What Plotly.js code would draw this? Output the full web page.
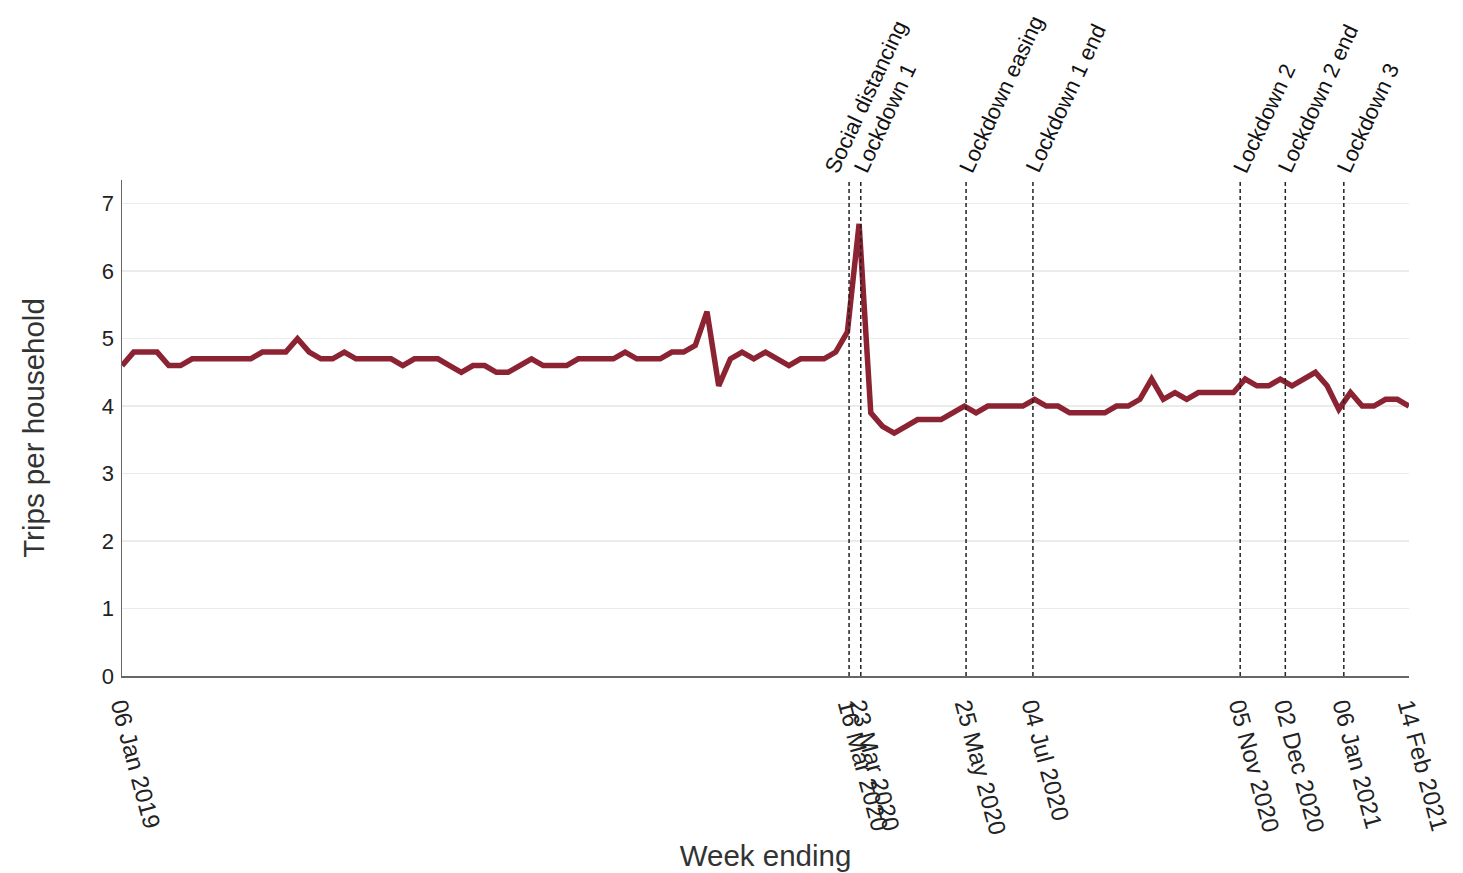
<!DOCTYPE html>
<html>
<head>
<meta charset="utf-8">
<script src="https://cdn.plot.ly/plotly-3.0.1.min.js"></script>
<style>html,body{margin:0;padding:0;background:#fff;}#chart{width:1463px;height:873px;}</style>
</head>
<body>
<div id="chart"></div>
<script>
// Weekly trips per household, week ending dates starting 06 Jan 2019 (Sundays) to 14 Feb 2021
const startWeek = '2019-01-06';
const tripsPerHousehold = [
  4.6, 4.8, 4.8, 4.8, 4.6, 4.6, 4.7, 4.7, 4.7, 4.7,
  4.7, 4.7, 4.8, 4.8, 4.8, 5.0, 4.8, 4.7, 4.7, 4.8,
  4.7, 4.7, 4.7, 4.7, 4.6, 4.7, 4.7, 4.7, 4.6, 4.5,
  4.6, 4.6, 4.5, 4.5, 4.6, 4.7, 4.6, 4.6, 4.6, 4.7,
  4.7, 4.7, 4.7, 4.8, 4.7, 4.7, 4.7, 4.8, 4.8, 4.9,
  5.4, 4.3, 4.7, 4.8, 4.7, 4.8, 4.7, 4.6, 4.7, 4.7,
  4.7, 4.8, 5.1, 6.7, 3.9, 3.7, 3.6, 3.7, 3.8, 3.8,
  3.8, 3.9, 4.0, 3.9, 4.0, 4.0, 4.0, 4.0, 4.1, 4.0,
  4.0, 3.9, 3.9, 3.9, 3.9, 4.0, 4.0, 4.1, 4.4, 4.1,
  4.2, 4.1, 4.2, 4.2, 4.2, 4.2, 4.4, 4.3, 4.3, 4.4,
  4.3, 4.4, 4.5, 4.3, 3.95, 4.2, 4.0, 4.0, 4.1, 4.1,
  4.0
];
const eventDates = ['2020-03-16', '2020-03-23', '2020-05-25', '2020-07-04', '2020-11-05', '2020-12-02', '2021-01-06'];
const eventLabels = ['Social distancing', 'Lockdown 1', 'Lockdown easing', 'Lockdown 1 end', 'Lockdown 2', 'Lockdown 2 end', 'Lockdown 3'];
const tickDates = ['2019-01-06', '2020-03-16', '2020-03-23', '2020-05-25', '2020-07-04', '2020-11-05', '2020-12-02', '2021-01-06', '2021-02-14'];
const tickLabels = ['06 Jan 2019', '16 Mar 2020', '23 Mar 2020', '25 May 2020', '04 Jul 2020', '05 Nov 2020', '02 Dec 2020', '06 Jan 2021', '14 Feb 2021'];

// week-ending dates for each value
const weekDates = tripsPerHousehold.map((_, i) => {
  const d = new Date(startWeek + 'T00:00:00Z');
  d.setUTCDate(d.getUTCDate() + 7 * i);
  return d.toISOString().slice(0, 10);
});

const FONT = '"Liberation Sans", Arial, sans-serif';

const trace = {
  x: weekDates,
  y: tripsPerHousehold,
  type: 'scatter',
  mode: 'lines',
  line: {color: '#8c2332', width: 5.5},
  hoverinfo: 'x+y'
};

const shapes = eventDates.map(d => ({
  type: 'line', xref: 'x', yref: 'paper',
  x0: d, x1: d, y0: 0, y1: 1,
  line: {color: '#222', width: 1.5, dash: '4px,3px'}
}));

const annotations = eventDates.map((d, i) => ({
  x: d, xref: 'x', y: 1, yref: 'paper',
  text: eventLabels[i], showarrow: false,
  textangle: -65, xanchor: 'left', yanchor: 'bottom',
  xshift: i === 0 ? -32 : -15, yshift: 1,
  font: {family: FONT, size: 22, color: '#111'}
}));

const layout = {
  width: 1463, height: 873,
  margin: {l: 122, r: 54, t: 180, b: 197},
  paper_bgcolor: '#fff', plot_bgcolor: '#fff',
  showlegend: false,
  font: {family: FONT, color: '#222'},
  xaxis: {
    type: 'date',
    range: ['2019-01-06', '2021-02-14'],
    tickmode: 'array', tickvals: tickDates, ticktext: tickLabels,
    tickangle: 75,
    tickfont: {family: FONT, size: 24, color: '#222'},
    ticks: '', ticklabelstandoff: 5,
    showgrid: false, zeroline: false,
    showline: true, linecolor: '#666', linewidth: 1.5,
    title: {text: 'Week ending', font: {family: FONT, size: 29.5, color: '#333'}, standoff: 8},
    automargin: false
  },
  yaxis: {
    range: [0, 7.35],
    tickmode: 'linear', tick0: 0, dtick: 1,
    tickfont: {family: FONT, size: 22, color: '#222'},
    ticks: '', ticklabelstandoff: 2,
    showgrid: true, gridcolor: '#ebebeb', gridwidth: 1.5,
    zeroline: false,
    showline: true, linecolor: '#666', linewidth: 1.5,
    title: {text: 'Trips per household', font: {family: FONT, size: 29.5, color: '#333'}, standoff: 48},
    automargin: false
  },
  shapes: shapes,
  annotations: annotations
};

Plotly.newPlot('chart', [trace], layout, {displayModeBar: false, staticPlot: true});
</script>
</body>
</html>
